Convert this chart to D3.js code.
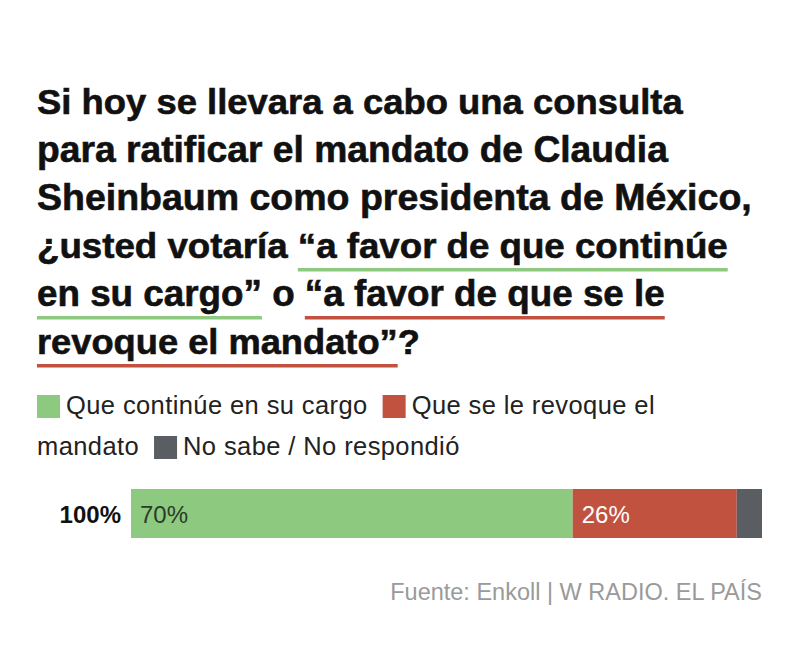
<!DOCTYPE html>
<meta charset="utf-8">
<head>
  <title>Consulta de revocación</title>
  <style>
  body { margin: 0; background: #fff; }
  text { font-family: "Liberation Sans", Arial, sans-serif; }
  </style>
</head>
<html>
  <body>
    <svg width="800" height="650"></svg>
  </body>
</html>
<script src="https://d3js.org/d3.v7.min.js"></script>
<script>
// data
var categories = ["Que continúe en su cargo", "Que se le revoque el mandato", "No sabe / No respondió"];
var values = [70, 26, 4];
var colors = ["#8dc97f", "#c0523f", "#5a5d61"];
var rowLabel = "100%";
var source = "Fuente: Enkoll | W RADIO. EL PAÍS";

// title lines: segments with underline colour index (-1 = none)
var titleLines = [
  [["Si hoy se llevara a cabo una consulta", -1]],
  [["para ratificar el mandato de Claudia", -1]],
  [["Sheinbaum como presidenta de México,", -1]],
  [["¿usted votaría ", -1], ["“a favor de que continúe", 0]],
  [["en su cargo”", 0], [" o ", -1], ["“a favor de que se le", 1]],
  [["revoque el mandato”", 1], ["?", -1]]
];
var titleWidths = [646, 631, 715, 691, 628, 383];

var svg = d3.select("svg"),
    left = 37, right = 762;

// title
var title = svg.append("g");
titleLines.forEach(function(segs, i) {
  var y = 114 + i * 48;
  var t = title.append("text")
      .attr("y", y)
      .attr("font-size", 36)
      .attr("font-weight", "bold")
      .attr("fill", "#111")
      .attr("stroke", "#111")
      .attr("stroke-width", 0.6);
  var spans = segs.map(function(s) {
    return t.append("tspan").text(s[0]);
  });
  var natural = t.node().getComputedTextLength();
  var sx = titleWidths[i] / natural;
  t.attr("transform", "translate(" + left + ",0) scale(" + sx + ",1)");
  var pos = 0;
  segs.forEach(function(s, j) {
    var w = spans[j].node().getComputedTextLength();
    if (s[1] >= 0) {
      svg.append("rect")
          .attr("x", left + pos * sx)
          .attr("y", y + 10)
          .attr("width", w * sx)
          .attr("height", 3.5)
          .attr("fill", colors[s[1]]);
    }
    pos += w;
  });
});

// legend (flows like inline text)
var legend = svg.append("g")
    .attr("font-size", 25.5)
    .attr("letter-spacing", 0.4)
    .attr("fill", "#222");
var lx = left, ly = 414, lineH = 41, sw = 23;
var meas = legend.append("text").attr("visibility", "hidden");
function textW(s) { meas.text(s); return meas.node().getComputedTextLength(); }
categories.forEach(function(c, i) {
  if (lx + sw > right) { lx = left; ly += lineH; }
  legend.append("rect")
      .attr("x", lx).attr("y", ly - 19)
      .attr("width", sw).attr("height", sw)
      .attr("fill", colors[i]);
  lx += sw + 6;
  var words = c.split(" "), line = "", startX = lx;
  words.forEach(function(wd) {
    var test = line ? line + " " + wd : wd;
    if (startX + textW(test) > right && line) {
      legend.append("text").attr("x", startX).attr("y", ly).text(line);
      lx = left; startX = left; ly += lineH; line = wd;
    } else {
      line = test;
    }
  });
  legend.append("text").attr("x", startX).attr("y", ly).text(line);
  lx = startX + textW(line) + 15;
});
meas.remove();

// bar
var x = d3.scaleLinear().domain([0, d3.sum(values)]).range([131, right]);
var y = d3.scaleBand().domain([rowLabel]).range([489, 538]);
var stack = d3.cumsum(values);

svg.append("g").selectAll("rect")
  .data(values)
  .join("rect")
    .attr("x", function(d, i) { return x(stack[i] - d); })
    .attr("y", y(rowLabel))
    .attr("width", function(d) { return x(d) - x(0); })
    .attr("height", y.bandwidth())
    .attr("fill", function(d, i) { return colors[i]; });

svg.append("g").selectAll("text")
  .data(values.filter(function(d) { return d >= 10; }))
  .join("text")
    .attr("x", function(d, i) { return x(stack[i] - d) + 9; })
    .attr("y", y(rowLabel) + y.bandwidth() / 2 + 9)
    .attr("font-size", 24)
    .attr("fill", function(d, i) { return i === 0 ? "#2c3b2a" : "#fff"; })
    .text(function(d) { return d + "%"; });

svg.append("text")
    .attr("x", 121)
    .attr("y", y(rowLabel) + y.bandwidth() / 2 + 9)
    .attr("text-anchor", "end")
    .attr("font-size", 24)
    .attr("font-weight", "bold")
    .attr("fill", "#111")
    .text(rowLabel);

// source
svg.append("text")
    .attr("x", right)
    .attr("y", 600)
    .attr("text-anchor", "end")
    .attr("font-size", 23.5)
    .attr("fill", "#9a9a9a")
    .text(source);
</script>
